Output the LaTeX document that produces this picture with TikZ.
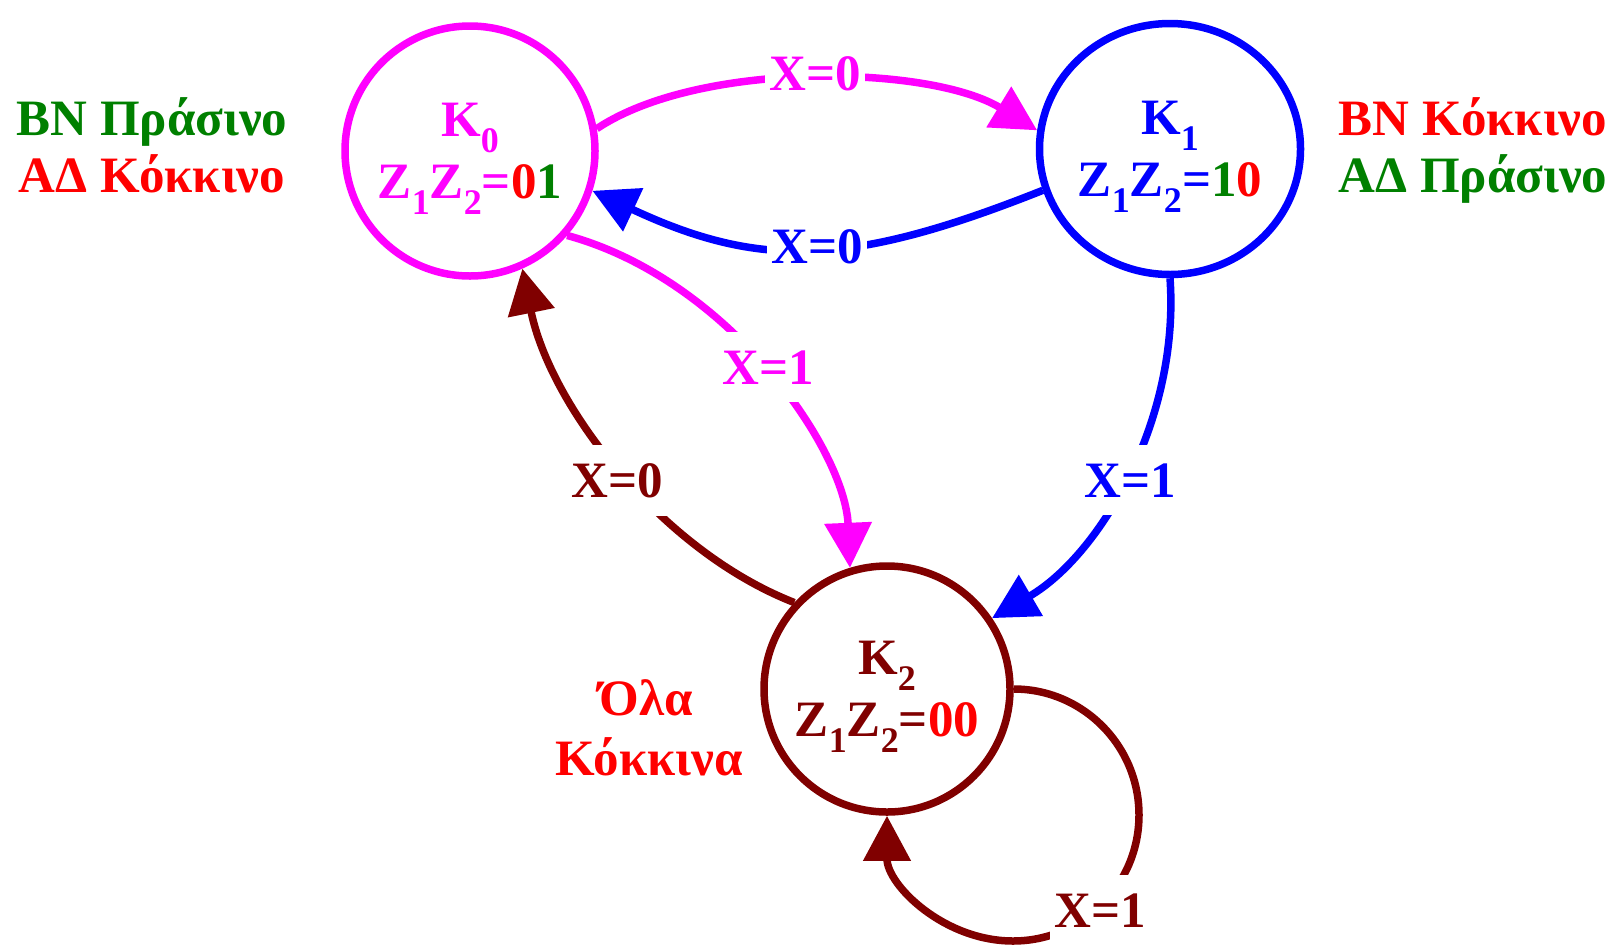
\documentclass[tikz,border=0pt]{standalone}
\usepackage{fontspec}
\setmainfont{Liberation Serif}
\usetikzlibrary{arrows.meta,shapes.geometric}
\definecolor{mag}{RGB}{255,0,255}
\definecolor{blu}{RGB}{0,0,255}
\definecolor{mar}{RGB}{128,0,0}
\definecolor{rd}{RGB}{255,0,0}
\definecolor{grn}{RGB}{0,128,0}
\newcommand\sbs[1]{\smash{\raisebox{-16pt}{\fontsize{36}{36}\selectfont #1}}}
\begin{document}
\begin{tikzpicture}[x=1pt,y=-1pt,
  every node/.style={font=\fontsize{51}{62}\selectfont\bfseries},
  stnode/.style={draw, line width=7.5pt, align=center, inner sep=0pt},
  conn/.style={line width=7.5pt, -{Triangle[length=45pt,width=46pt]}},
  elabel/.style={fill=white, inner xsep=4pt, inner ysep=18pt, anchor=base},
  sidetxt/.style={anchor=base}]
\useasboundingbox (0,0) rectangle (1614,951);

% states
\node[stnode, circle, mag, minimum size=250pt] (K0) at (470,151)
  {K\sbs{0}\\Z\sbs{1}Z\sbs{2}=\textcolor{rd}{0}\textcolor{grn}{1}};
\node[stnode, ellipse, blu, minimum width=261pt, minimum height=251pt] (K1) at (1170,149)
  {K\sbs{1}\\Z\sbs{1}Z\sbs{2}=\textcolor{grn}{1}\textcolor{rd}{0}};
\node[stnode, circle, mar, minimum size=246pt] (K2) at (887,689)
  {K\sbs{2}\\Z\sbs{1}Z\sbs{2}=\textcolor{rd}{00}};

% connectors
\draw[conn, mag] (K0.10) .. controls (700,60) and (930,65) .. (K1.172);
\draw[conn, blu] (K1.198) .. controls (850,267) and (760,269) .. (K0.-18);
\draw[conn, mag] (K0.-41) .. controls (730,280) and (845,450) .. (K2.107);
\draw[conn, mar] (K2.137) .. controls (660,550) and (550,405) .. (K0.-66);
\draw[conn, blu] (K1.south) .. controls (1180,420) and (1100,555) .. (K2.34);
\draw[conn, mar] (K2.east) .. controls (1082.6,689) and (1139,745.4) .. (1139,815)
  .. controls (1139,884.6) and (1082.6,941) .. (1013,941)
  .. controls (943.4,941) and (887,884.6) .. (K2.south);

% edge labels
\node[elabel, text=mag] (l1) at (815,90) {X=0};
\node[elabel, text=blu] (l2) at (817,263) {X=0};
\node[elabel, text=mag] (l3) at (768,384) {X=1};
\node[elabel, text=mar] (l4) at (617,497) {X=0};
\node[elabel, text=blu] (l5) at (1130,497) {X=1};
\node[elabel, text=mar] (l6) at (1100,927) {X=1};

% side texts
\node[sidetxt, text=grn] (bn0) at (152,135) {ΒΝ Πράσινο};
\node[sidetxt, text=rd] (ad0) at (152,192) {ΑΔ Κόκκινο};
\node[sidetxt, text=rd] (bn1) at (1473,135) {ΒΝ Κόκκινο};
\node[sidetxt, text=grn] (ad1) at (1473,192) {ΑΔ Πράσινο};
\node[sidetxt, text=rd] (ola1) at (646,715) {Όλα};
\node[sidetxt, text=rd] (ola2) at (649,775) {Κόκκινα};
\end{tikzpicture}
\end{document}
